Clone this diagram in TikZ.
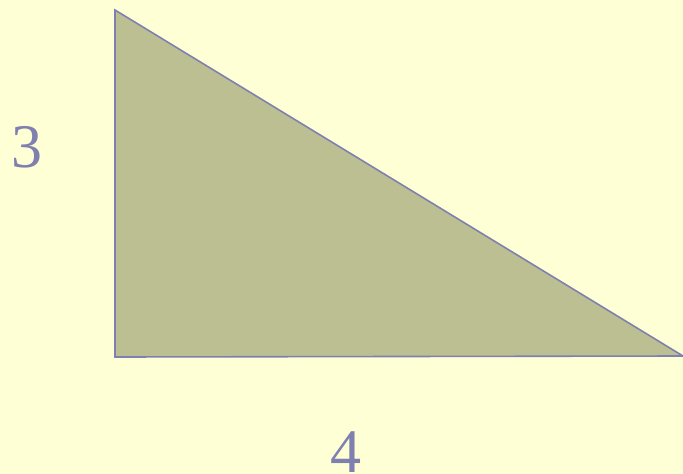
\documentclass[tikz,border=0pt]{standalone}
\usepackage{fontspec}
\setmainfont{Liberation Serif}
\definecolor{bgc}{RGB}{255,255,213}
\definecolor{fillc}{RGB}{187,191,145}
\definecolor{linec}{RGB}{128,128,176}
\tikzset{lbl/.style={text=linec,font=\fontsize{62}{62}\selectfont,inner sep=0pt}}
\begin{document}
\begin{tikzpicture}[x=1pt,y=-1pt]
\fill[bgc] (0,0) rectangle (683,474);
\useasboundingbox (0,0) rectangle (683,474);
\coordinate (A) at (115,10);
\coordinate (B) at (115,357);
\coordinate (C) at (683,356);
\filldraw[fill=fillc,draw=linec,line width=1.6pt,line join=miter] (A) -- (B) -- (C) -- cycle;
\node[lbl,anchor=base] (three) at (27,167) {3};
\node[lbl,anchor=base] (four) at (346,472) {4};
\end{tikzpicture}
\end{document}
